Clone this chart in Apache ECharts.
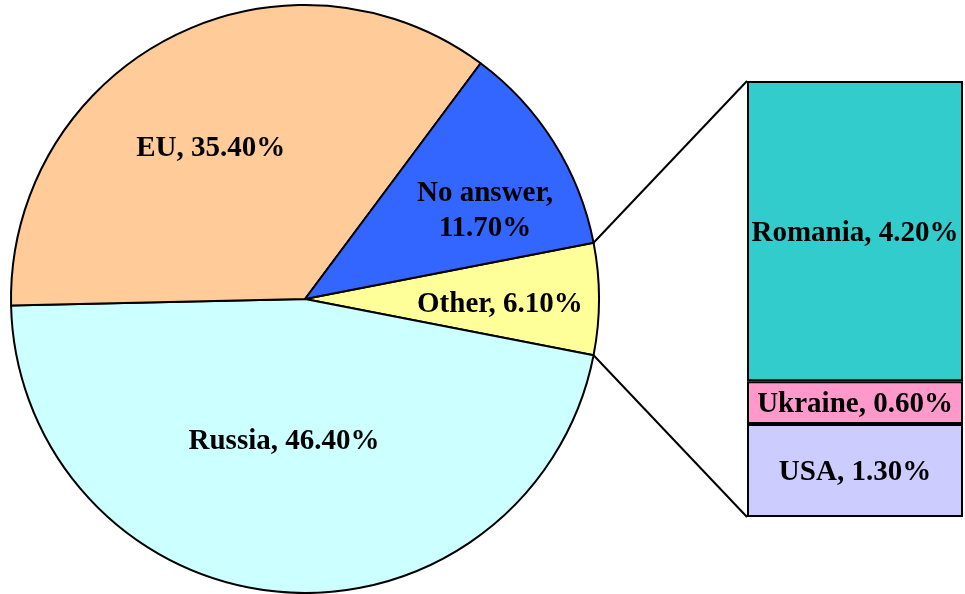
<!DOCTYPE html>
<html>
<head>
<meta charset="utf-8">
<script src="https://cdn.jsdelivr.net/npm/echarts@6/dist/echarts.min.js"></script>
<style>html,body{margin:0;padding:0;background:#fff}#c{width:965px;height:594px}</style>
</head>
<body>
<div id="c"></div>
<script>
// Pie data (clockwise from the "Other" slice)
const pieNames = ['Other', 'Russia', 'EU', 'No answer'];
const pieValues = [6.1, 46.4, 35.4, 11.7];
const pieLabels = ['Other, 6.10%', 'Russia, 46.40%', 'EU, 35.40%', 'No answer,\n11.70%'];
const pieColors = ['#FFFF99', '#CCFFFF', '#FFCC99', '#3366FF'];
const pieLabelRadius = [0.663, 0.484, 0.61, 0.685];
const pieLabelAngleShift = [-0.9, -3.6, 4.4, -5.5];

// Breakdown of "Other" (bottom to top)
const otherNames = ['USA', 'Ukraine', 'Romania'];
const otherValues = [1.3, 0.6, 4.2];
const otherLabels = ['USA, 1.30%', 'Ukraine, 0.60%', 'Romania, 4.20%'];
const otherColors = ['#CCCCFF', '#FF99CC', '#33CCCC'];

const CX = 305, CY = 299, R = 294;
const GRID = {left: 747, top: 81, width: 216, height: 436};
const total = pieValues.reduce((a, b) => a + b, 0);
const otherTotal = otherValues.reduce((a, b) => a + b, 0);
const startAngle = pieValues[0] / total * 360 / 2;

const font = {fontFamily: 'Liberation Serif', fontWeight: 'bold', fontSize: 29, color: '#000', lineHeight: 35};

// mid angles
const midAngles = [];
let acc = startAngle;
pieValues.forEach(v => { const a = v / total * 360; midAngles.push(acc - a / 2); acc -= a; });

const chart = echarts.init(document.getElementById('c'), null, {renderer: 'canvas'});
const option = {
  animation: false,
  grid: Object.assign({}, GRID),
  xAxis: {type: 'category', data: [''], show: false},
  yAxis: {type: 'value', min: 0, max: otherTotal, show: false},
  series: [
    {
      type: 'pie',
      center: [CX, CY],
      radius: R,
      startAngle: startAngle,
      clockwise: true,
      avoidLabelOverlap: false,
      data: pieNames.map((n, i) => ({name: n, value: pieValues[i], itemStyle: {color: pieColors[i]}})),
      itemStyle: {borderColor: '#000', borderWidth: 2},
      label: Object.assign({show: true, position: 'inside', formatter: p => pieLabels[p.dataIndex], align: 'center'}, font),
      labelLine: {show: false},
      labelLayout: function (p) {
        const a = (midAngles[p.dataIndex] + pieLabelAngleShift[p.dataIndex]) * Math.PI / 180;
        const r = R * pieLabelRadius[p.dataIndex];
        return {x: CX + r * Math.cos(a), y: CY - r * Math.sin(a) + 2, align: 'center', verticalAlign: 'middle'};
      },
      emphasis: {disabled: true}
    }
  ].concat(otherNames.map((n, i) => ({
    type: 'bar',
    name: n,
    stack: 'other',
    barWidth: '100%',
    data: [otherValues[i]],
    itemStyle: {color: otherColors[i], borderColor: '#000', borderWidth: 2},
    label: Object.assign({show: true, position: 'inside', offset: [0, 2], formatter: () => otherLabels[i]}, font),
    emphasis: {disabled: true}
  })))
};
chart.setOption(option);

// connector lines from the "Other" slice edges to the breakdown bar
const a1 = startAngle * Math.PI / 180;
const p1 = [CX + R * Math.cos(a1), CY - R * Math.sin(a1)];
const p2 = [CX + R * Math.cos(-a1), CY - R * Math.sin(-a1)];
const topPt = chart.convertToPixel({gridIndex: 0}, [0, otherTotal]);
const botPt = chart.convertToPixel({gridIndex: 0}, [0, 0]);
chart.setOption({
  graphic: [
    {type: 'line', shape: {x1: p1[0], y1: p1[1], x2: GRID.left, y2: topPt[1]}, style: {stroke: '#000', lineWidth: 2}, z: 10},
    {type: 'line', shape: {x1: p2[0], y1: p2[1], x2: GRID.left, y2: botPt[1]}, style: {stroke: '#000', lineWidth: 2}, z: 10}
  ]
});
</script>
</body>
</html>
